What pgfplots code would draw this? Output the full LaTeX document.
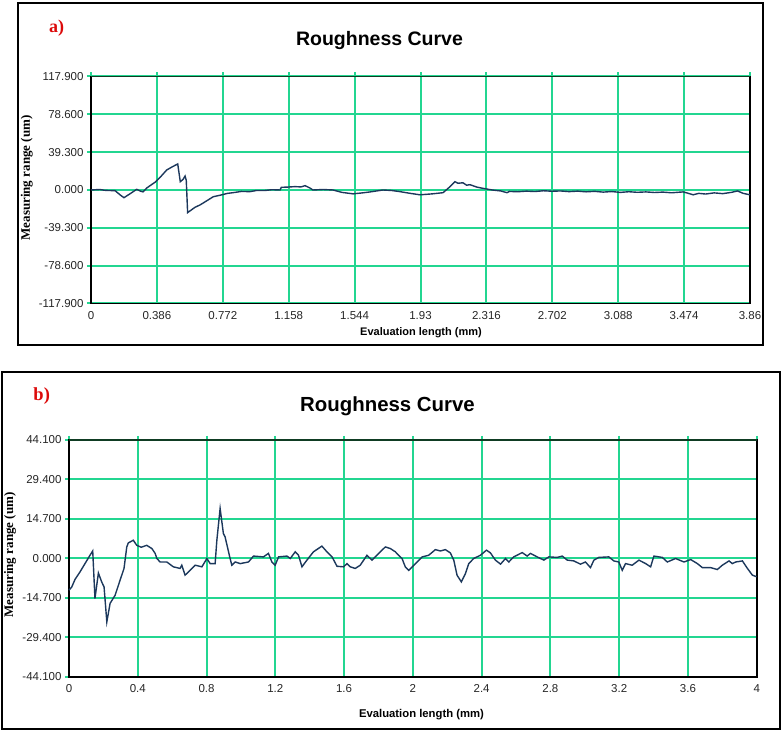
\documentclass[border=0pt]{standalone}
\usepackage{fontspec}
\setmainfont{Liberation Sans}
\newfontfamily\timesfont{Liberation Serif}
\usepackage{pgfplots}
\pgfplotsset{compat=1.18}

\definecolor{gridgreen}{RGB}{35,214,145}
\definecolor{topgreen}{RGB}{15,60,35}
\definecolor{curve}{RGB}{28,56,92}
\definecolor{labred}{RGB}{220,10,10}

\pgfplotsset{rough/.style={
  scale only axis, anchor=south west,
  axis line style={black, line width=1.8pt},
  grid=major, major grid style={gridgreen, line width=2pt},
  tick style={gridgreen, line width=2pt}, major tick length=4pt, tick align=outside,
  xtick pos=upper, xticklabel pos=lower, ytick pos=left, yticklabel pos=left,
  ticklabel style={font=\fontsize{11.5}{13}\selectfont, text=black!85},
  xticklabel style={text height=8.3pt, text depth=0pt},
  clip=false,
}}

\begin{document}
\begin{tikzpicture}[x=1pt,y=1pt]
\useasboundingbox (0,0) rectangle (782,733);
% panel boxes
\draw[line width=1.8pt] (18.3,730.3) rectangle (763.3,388);
\draw[line width=1.8pt] (1.7,361.3) rectangle (780,4);

% ---------- panel a ----------
\begin{axis}[rough, at={(91pt,429.5pt)}, width=659pt, height=227pt,
  xmin=0, xmax=3.86, ymin=-117.9, ymax=117.9,
  xtick={0,0.386,0.772,1.158,1.544,1.93,2.316,2.702,3.088,3.474,3.86},
  xticklabels={0,0.386,0.772,1.158,1.544,1.93,2.316,2.702,3.088,3.474,3.86},
  ytick={-117.9,-78.6,-39.3,0,39.3,78.6,117.9},
  yticklabels={-117.900,-78.600,-39.300,0.000,39.300,78.600,117.900}]
\addplot[curve, line width=1.4pt] coordinates {
(0.000,0.0) (0.030,0.3) (0.053,0.5) (0.080,-0.3) (0.100,-0.5) (0.141,-0.7)
(0.170,-5) (0.193,-8) (0.228,-4) (0.268,0.7) (0.287,-1) (0.305,-2) (0.326,2)
(0.350,5) (0.375,8) (0.404,13) (0.443,20.7) (0.475,24) (0.508,27) (0.523,8.6)
(0.539,11) (0.551,14.5) (0.558,10) (0.566,-23.5) (0.609,-18) (0.639,-15.5)
(0.680,-11) (0.716,-7) (0.767,-5) (0.800,-3.5) (0.832,-2.8) (0.880,-1.5)
(0.931,-1.7) (0.970,-0.5) (1.019,-0.5) (1.060,0.3) (1.107,0) (1.115,2.8)
(1.150,3) (1.195,3.5) (1.230,3.2) (1.254,4.5) (1.283,2) (1.300,0) (1.360,0.5)
(1.418,0) (1.470,-2.5) (1.535,-4) (1.590,-3) (1.635,-2) (1.710,0) (1.760,-0.5)
(1.810,-1.7) (1.870,-3.5) (1.927,-5) (2.000,-4) (2.062,-2.8) (2.100,3)
(2.132,8.6) (2.150,7) (2.179,7.5) (2.200,5) (2.220,5.5) (2.260,3) (2.296,1.7)
(2.350,0) (2.400,-1) (2.437,-2.8) (2.450,-1.5) (2.5,-1.8) (2.55,-1.2) (2.6,-1.6)
(2.65,-0.8) (2.7,-1.3) (2.75,-1.0) (2.8,-1.7) (2.85,-1.2) (2.9,-1.9) (2.95,-1.4)
(3.0,-2.2) (3.05,-1.6) (3.1,-2.5) (3.15,-1.8) (3.2,-2.4) (3.25,-2.0) (3.3,-2.6)
(3.35,-2.2) (3.4,-2.9) (3.468,-2.0) (3.49,-3.0) (3.527,-5) (3.56,-3.5) (3.6,-4.2)
(3.65,-3.0) (3.7,-3.8) (3.75,-2.5) (3.787,-1) (3.82,-3.5) (3.86,-5)
};
\draw[topgreen, line width=1.8pt] (rel axis cs:0,1) -- (rel axis cs:1,1);
\end{axis}

% ---------- panel b ----------
\begin{axis}[rough, at={(69pt,56pt)}, width=687.7pt, height=237pt,
  xmin=0, xmax=4, ymin=-44.1, ymax=44.1,
  xtick={0,0.4,0.8,1.2,1.6,2,2.4,2.8,3.2,3.6,4},
  xticklabels={0,0.4,0.8,1.2,1.6,2,2.4,2.8,3.2,3.6,4},
  ytick={-44.1,-29.4,-14.7,0,14.7,29.4,44.1},
  yticklabels={-44.100,-29.400,-14.700,0.000,14.700,29.400,44.100}]
\addplot[curve, line width=1.4pt] coordinates {
(0,-11.8) (0.016,-10.6) (0.035,-7.8) (0.064,-5) (0.093,-1.9) (0.122,1.2)
(0.138,2.8) (0.151,-14.9) (0.171,-5.4) (0.190,-8.7) (0.204,-10.6) (0.220,-23.6)
(0.239,-16.7) (0.268,-13.7) (0.297,-8.1) (0.320,-3.7) (0.336,4.3) (0.345,5.8)
(0.374,6.8) (0.394,4.9) (0.420,4.2) (0.452,4.9) (0.482,3.7) (0.501,1.9)
(0.511,0) (0.530,-1.3) (0.569,-1.3) (0.607,-3.1) (0.646,-3.7) (0.656,-2.5)
(0.675,-6.2) (0.695,-5) (0.734,-2.5) (0.773,-3.1) (0.802,0) (0.821,-1.9)
(0.850,-1.9) (0.860,6.8) (0.879,18.6) (0.898,9.3) (0.908,8) (0.928,2.5)
(0.937,0) (0.947,-2.5) (0.967,-1.3) (0.996,-1.9) (1.044,-1.3) (1.073,0.9)
(1.131,0.6) (1.160,1.9) (1.180,-1.3) (1.199,-2.5) (1.219,0.6) (1.268,0.9)
(1.287,0) (1.316,2.5) (1.335,1.2) (1.355,-3.1) (1.384,-0.6) (1.422,2.5)
(1.471,4.6) (1.500,2.5) (1.530,0.6) (1.559,-2.9) (1.597,-3.1) (1.617,-1.9)
(1.636,-3.1) (1.665,-3.7) (1.694,-2.5) (1.733,1.2) (1.762,-0.6) (1.811,2.5)
(1.840,4.3) (1.869,3.7) (1.898,2.5) (1.917,1.2) (1.937,0) (1.956,-3.1)
(1.976,-4.4) (2.015,-1.9) (2.054,0.6) (2.092,1.2) (2.131,3.3) (2.160,2.8)
(2.189,3.3) (2.218,2.1) (2.238,-0.6) (2.257,-6.2) (2.282,-8.7) (2.306,-5.6)
(2.325,-1.9) (2.354,0) (2.393,1.2) (2.428,3.1) (2.451,2.1) (2.480,-0.6)
(2.510,-2.1) (2.539,0) (2.558,-1.3) (2.587,0.6) (2.636,2.2) (2.665,0.9)
(2.684,1.9) (2.723,0.6) (2.762,-0.6) (2.791,0.6) (2.840,0.4) (2.869,0.9)
(2.898,-0.6) (2.936,-0.9) (2.975,-2.1) (3.004,-1.3) (3.033,-3.4) (3.053,-0.6)
(3.082,0.4) (3.140,0.6) (3.169,-0.9) (3.198,-1.3) (3.218,-4.4) (3.237,-1.9)
(3.276,-2.5) (3.315,-0.6) (3.354,-1.9) (3.383,-3.1) (3.402,0.9) (3.451,0.4)
(3.480,-1.3) (3.528,0) (3.577,-1.3) (3.616,-0.4) (3.655,-1.9) (3.684,-3.4)
(3.732,-3.4) (3.771,-4.1) (3.800,-2.5) (3.839,-0.9) (3.858,-1.9) (3.878,-1.3)
(3.917,-0.9) (3.946,-3.7) (3.975,-6.2) (4.0,-6.8)
};
\draw[topgreen, line width=1.8pt] (rel axis cs:0,1) -- (rel axis cs:1,1);
\end{axis}

% titles and labels
\node[anchor=base, font=\bfseries\fontsize{19.5}{22}\selectfont] at (379.5,687.3) {Roughness Curve};
\node[anchor=base, font=\bfseries\fontsize{20.4}{23}\selectfont] at (387.5,321.3) {Roughness Curve};
\node[text=labred, font=\timesfont\bfseries\fontsize{18}{20}\selectfont] at (56.7,705) {a)};
\node[text=labred, font=\timesfont\bfseries\fontsize{18.5}{20}\selectfont] at (41.7,337.3) {b)};
\node[rotate=90, font=\timesfont\bfseries\fontsize{13}{15}\selectfont] at (26.7,555) {Measuring range (um)};
\node[rotate=90, font=\timesfont\bfseries\fontsize{13}{15}\selectfont] at (10,178) {Measuring range (um)};
\node[font=\bfseries\fontsize{11}{13}\selectfont] at (421,400.3) {Evaluation length (mm)};
\node[font=\bfseries\fontsize{11.3}{13}\selectfont] at (421.5,18) {Evaluation length (mm)};
\end{tikzpicture}
\end{document}
